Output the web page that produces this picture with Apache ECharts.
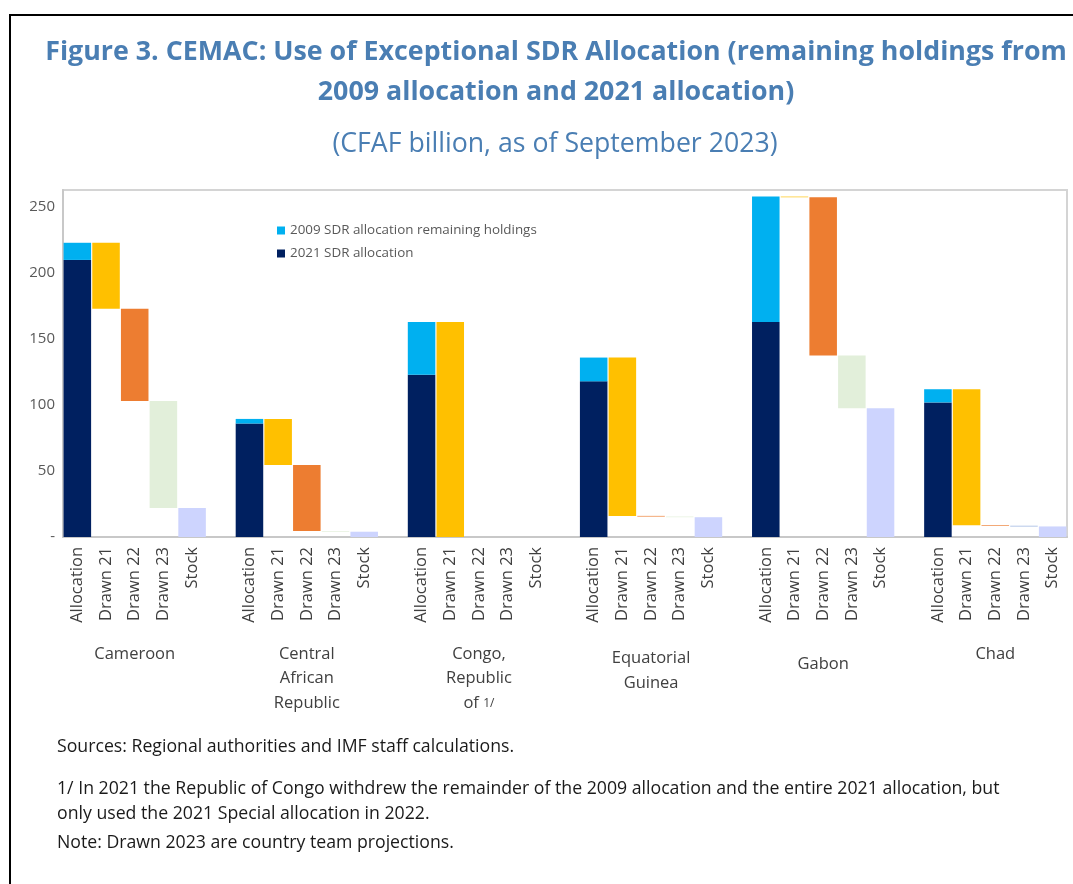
<!DOCTYPE html>
<html>
<head>
<meta charset="utf-8">
<script src="https://cdn.jsdelivr.net/npm/echarts@6/dist/echarts.min.js"></script>
<style>
  html, body { margin: 0; padding: 0; background: #fff; }
  #main { width: 1073px; height: 884px; }
</style>
</head>
<body>
<div id="main"></div>
<script>
// data (CFAF billion)
var countries = ['Cameroon', 'Central African Republic', 'Congo, Republic of 1/', 'Equatorial Guinea', 'Gabon', 'Chad'];
var steps = ['Allocation', 'Drawn 21', 'Drawn 22', 'Drawn 23', 'Stock'];
var alloc2021 = [210, 86, 123, 118, 163, 102];
var alloc2009 = [13, 3.5, 40, 18, 95, 10];
var drawn21 = [50, 35, 163, 120, 0.5, 103];
var drawn22 = [70, 50, 0, 0.5, 120, 0.5];
var drawn23 = [81, 0.5, 0, 0.5, 40, 0.5];
var stock = [22, 4, 0, 15, 97.5, 8];
var yTicks = [0, 50, 100, 150, 200, 250];

var C_NAVY = '#002060', C_SKY = '#00B0F0', C_YEL = '#FFC000', C_ORA = '#ED7D31',
    C_GRN = '#E2EFDA', C_LAV = '#CDD4FE';

// 5 bars per country, one empty slot between countries
var cats = [], groupOf = [], stepOf = [];
countries.forEach(function (c, i) {
  if (i > 0) { cats.push(''); groupOf.push(-1); stepOf.push(-1); }
  steps.forEach(function (s, j) { cats.push(s); groupOf.push(i); stepOf.push(j); });
});

function col(fn) {
  return cats.map(function (c, k) {
    if (groupOf[k] < 0) return '-';
    return fn(groupOf[k], stepOf[k]);
  });
}

// invisible base of the waterfall = what is left after each draw
var base = col(function (g, s) {
  var total = alloc2021[g] + alloc2009[g];
  if (s === 1) return total - drawn21[g];
  if (s === 2) return total - drawn21[g] - drawn22[g];
  if (s === 3) return total - drawn21[g] - drawn22[g] - drawn23[g];
  return '-';
});
var only = function (arr, step) { return col(function (g, s) { return s === step ? arr[g] : '-'; }); };

var d23 = only(drawn23, 3);
// Chad's tiny Drawn 23 sliver shows in blue in the figure
var chadIdx = cats.length - 2;
d23[chadIdx] = { value: d23[chadIdx], itemStyle: { color: '#8EA9DB' } };

var centerIdx = {};
countries.forEach(function (c, i) { centerIdx[i * 6 + 2] = i; });
var countryLabel = [
  '{a|Cameroon}',
  '{a|Central}\n{a|African}\n{a|Republic}',
  '{a|Congo,}\n{a|Republic}\n{a|of }{s|1/}',
  '{b|Equatorial}\n{b|Guinea}',
  '{c|Gabon}',
  '{d|Chad}'
];

var font = 'Open Sans';
var foot = '17.7px "Open Sans"';
var myChart = echarts.init(document.getElementById('main'));
myChart.setOption({
  animation: false,
  textStyle: { fontFamily: font },
  title: [{
    text: 'Figure 3. CEMAC: Use of Exceptional SDR Allocation (remaining holdings from\n2009 allocation and 2021 allocation)',
    left: 551, top: 27, textAlign: 'center',
    textStyle: { fontFamily: font, fontSize: 26.8, fontWeight: 'bold', color: '#4A7EB3', lineHeight: 40 }
  }, {
    text: '(CFAF billion, as of September 2023)',
    left: 550, top: 126, textAlign: 'center',
    textStyle: { fontFamily: font, fontSize: 26.7, fontWeight: 'normal', color: '#4A7EB3' }
  }],
  legend: {
    data: ['2009 SDR allocation remaining holdings', '2021 SDR allocation'],
    orient: 'vertical', left: 272, top: 219,
    icon: 'rect', itemWidth: 8, itemHeight: 8, itemGap: 10,
    textStyle: { fontSize: 13.4, color: '#595959', fontFamily: font }
  },
  grid: {
    left: 63, right: 6, top: 190, bottom: 347,
    show: true, borderColor: '#d4d4d4', borderWidth: 2
  },
  xAxis: [{
    type: 'category', data: cats,
    axisLine: { lineStyle: { color: '#c8c8c8', width: 2 } },
    axisTick: { show: false },
    axisLabel: { interval: 0, rotate: 90, fontSize: 16.5, color: '#404040', margin: 10 }
  }, {
    type: 'category', data: cats, position: 'bottom',
    axisLine: { show: false }, axisTick: { show: false },
    axisLabel: {
      interval: 0, margin: 105,
      formatter: function (v, k) { return centerIdx[k] === undefined ? '' : countryLabel[centerIdx[k]]; },
      rich: {
        a: { fontSize: 16.5, color: '#404040', lineHeight: 24.5, fontFamily: font },
        b: { fontSize: 16.5, color: '#404040', lineHeight: 24.5, fontFamily: font, padding: [9, 0, 0, 0] },
        c: { fontSize: 16.5, color: '#404040', lineHeight: 24.5, fontFamily: font, padding: [20, 0, 0, 0] },
        d: { fontSize: 16.5, color: '#404040', lineHeight: 24.5, fontFamily: font, padding: [0, 0, 0, 0] },
        s: { fontSize: 12, color: '#404040', lineHeight: 24.5, fontFamily: font }
      }
    }
  }],
  yAxis: {
    type: 'value', min: 0, max: 263, interval: 50,
    splitLine: { show: false },
    axisTick: { show: false },
    axisLine: { show: true, lineStyle: { color: '#c8c8c8', width: 2 } },
    axisLabel: {
      fontSize: 15, color: '#595959', margin: 8, showMaxLabel: false,
      formatter: function (v) { return yTicks.indexOf(v) < 0 ? '' : (v === 0 ? '-' : v); }
    }
  },
  series: [
    { name: 'base', type: 'bar', stack: 'w', data: base, barCategoryGap: '4%',
      itemStyle: { color: 'transparent' }, silent: true },
    { name: '2021 SDR allocation', type: 'bar', stack: 'w', data: only(alloc2021, 0), itemStyle: { color: C_NAVY } },
    { name: '2009 SDR allocation remaining holdings', type: 'bar', stack: 'w', data: only(alloc2009, 0), itemStyle: { color: C_SKY } },
    { name: 'Drawn 21', type: 'bar', stack: 'w', data: only(drawn21, 1), itemStyle: { color: C_YEL } },
    { name: 'Drawn 22', type: 'bar', stack: 'w', data: only(drawn22, 2), itemStyle: { color: C_ORA } },
    { name: 'Drawn 23', type: 'bar', stack: 'w', data: d23, itemStyle: { color: C_GRN } },
    { name: 'Stock', type: 'bar', stack: 'w', data: only(stock, 4), itemStyle: { color: C_LAV } }
  ],
  graphic: [
    { type: 'rect', shape: { x: 10, y: 15, width: 1100, height: 900 }, style: { fill: 'none', stroke: '#000', lineWidth: 2 }, silent: true },
    { type: 'text', left: 57, top: 738, style: { text: 'Sources: Regional authorities and IMF staff calculations.', font: foot, fill: '#1a1a1a' } },
    { type: 'text', left: 57, top: 780, style: { text: '1/ In 2021 the Republic of Congo withdrew the remainder of the 2009 allocation and the entire 2021 allocation, but', font: foot, fill: '#1a1a1a' } },
    { type: 'text', left: 57, top: 805, style: { text: 'only used the 2021 Special allocation in 2022.', font: foot, fill: '#1a1a1a' } },
    { type: 'text', left: 57, top: 834, style: { text: 'Note: Drawn 2023 are country team projections.', font: foot, fill: '#1a1a1a' } }
  ]
});
</script>
</body>
</html>
